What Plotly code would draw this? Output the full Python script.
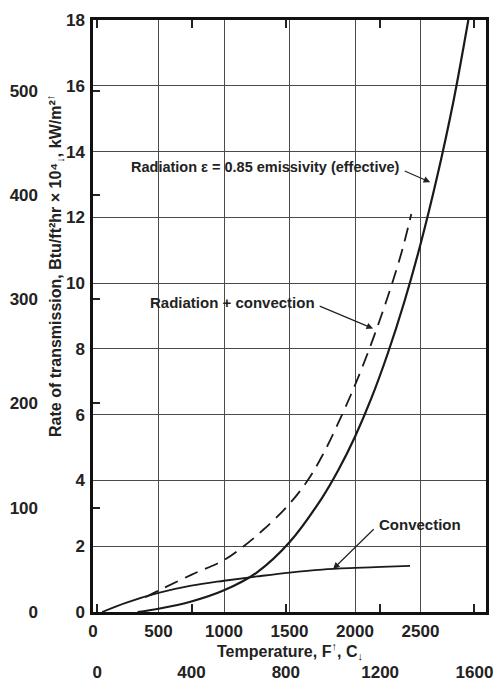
import plotly.graph_objects as go

# ---------------- data ----------------
rad_F = [340, 500, 750, 1000, 1250, 1500, 1750, 1875, 2000, 2125, 2250, 2375, 2500, 2625, 2750, 2865]
rad_V = [0.0, 0.1, 0.32, 0.66, 1.2, 2.12, 3.48, 4.33, 5.33, 6.5, 7.86, 9.41, 11.18, 13.2, 15.5, 18.0]

rc_F = [400, 500, 750, 1000, 1150, 1300, 1480, 1630, 1750, 1890, 2000, 2100, 2200, 2280, 2360, 2430]
rc_V = [0.45, 0.65, 1.13, 1.58, 2.0, 2.5, 3.2, 3.95, 4.75, 5.9, 6.9, 7.9, 9.0, 9.95, 11.0, 12.1]

conv_F = [70, 250, 500, 750, 1000, 1250, 1500, 1750, 2000, 2200, 2420]
conv_V = [0.0, 0.28, 0.58, 0.8, 0.95, 1.08, 1.2, 1.29, 1.34, 1.37, 1.4]

F_ticks = [0, 500, 1000, 1500, 2000, 2500, 3000]
C_ticks = [0, 400, 800, 1200, 1600]
btu_ticks = [0, 2, 4, 6, 8, 10, 12, 14, 16, 18]
kw_ticks = [0, 100, 200, 300, 400, 500]

F_range = [0, 3000]
btu_range = [0, 18]
KW_PER_UNIT = 31.546  # kW/m2 per (Btu/ft2 hr x 10^4)

FONT = "Liberation Sans Narrow, Arial Narrow, Liberation Sans, Arial, sans-serif"

fig = go.Figure()

fig.add_trace(go.Scatter(x=rad_F, y=rad_V, mode="lines", line=dict(color="#1a1a1a", width=2.2, shape="spline"),
                         showlegend=False, hoverinfo="skip"))
fig.add_trace(go.Scatter(x=rc_F, y=rc_V, mode="lines",
                         line=dict(color="#1a1a1a", width=1.8, shape="spline", dash="14px,8px"),
                         showlegend=False, hoverinfo="skip"))
fig.add_trace(go.Scatter(x=conv_F, y=conv_V, mode="lines", line=dict(color="#1a1a1a", width=1.8, shape="spline"),
                         showlegend=False, hoverinfo="skip"))

# invisible trace to activate secondary axes
fig.add_trace(go.Scatter(x=[C_ticks[0]], y=[kw_ticks[0]], xaxis="x2", yaxis="y2", mode="markers",
                         marker=dict(opacity=0), showlegend=False, hoverinfo="skip"))

tickfont = dict(family=FONT, size=17, color="#222", weight="bold")
GRID = "#4a4a4a"

fig.update_layout(
    width=504, height=681,
    margin=dict(l=93, r=18, t=20, b=69, autoexpand=False),
    paper_bgcolor="white", plot_bgcolor="white",
    xaxis=dict(range=F_range, tickvals=F_ticks, showgrid=True, gridcolor=GRID, gridwidth=1.4,
               showline=True, linecolor="#111", linewidth=2.5, mirror=True, ticks="", automargin=False,
               tickfont=tickfont, zeroline=False, ticklabelstandoff=2),
    yaxis=dict(range=btu_range, tickvals=btu_ticks, showgrid=True, gridcolor=GRID, gridwidth=1.4,
               showline=True, linecolor="#111", linewidth=2.5, mirror=True, ticks="", automargin=False,
               tickfont=tickfont, zeroline=False, ticklabelstandoff=2),
    xaxis2=dict(range=[(F_range[0] - 32) / 1.8, (F_range[1] - 32) / 1.8], tickvals=C_ticks,
                overlaying="x", anchor="y", side="bottom", ticks="inside", ticklen=8, tickwidth=1.5,
                tickcolor="#222", showline=True, linecolor="#111", linewidth=2.5, mirror="ticks",
                automargin=False,
                showgrid=False, zeroline=False, tickfont=tickfont, ticklabelstandoff=43),
    yaxis2=dict(range=[btu_range[0] * KW_PER_UNIT, btu_range[1] * KW_PER_UNIT], tickvals=kw_ticks,
                overlaying="y", anchor="x", side="left", ticks="inside", ticklen=7, tickwidth=1.5,
                tickcolor="#222", showline=False, showgrid=False, zeroline=False, automargin=False,
                tickfont=tickfont, ticklabelstandoff=54),
)

ann_font = dict(family=FONT, size=15, color="#222", weight="bold")
rad_font = dict(family=FONT, size=14.5, color="#222", weight="bold")

# text labels
fig.add_annotation(x=1314, y=13.52, text="Radiation ε = 0.85 emissivity (effective)", showarrow=False,
                   font=rad_font, xanchor="center", yanchor="middle")
fig.add_annotation(x=1063, y=9.41, text="Radiation + convection", showarrow=False,
                   font=ann_font, xanchor="center", yanchor="middle")
fig.add_annotation(x=2497, y=2.65, text="Convection", showarrow=False,
                   font=ann_font, xanchor="center", yanchor="middle")

# arrows
for hx, hy, tx, ty in [(2574, 13.07, 2368, 13.43), (2138, 8.62, 1719, 9.32), (1833, 1.31, 2154, 2.56)]:
    fig.add_annotation(x=hx, y=hy, ax=tx, ay=ty, axref="x", ayref="y", text="", showarrow=True,
                       arrowhead=2, arrowsize=1.1, arrowwidth=1.2, arrowcolor="#222")

# axis titles
fig.add_annotation(xref="paper", yref="paper", x=0.5, y=-0.066, showarrow=False,
                   text="Temperature, F<sup>↑</sup>, C<sub>↓</sub>",
                   font=dict(family=FONT, size=16, color="#222", weight="bold"),
                   xanchor="center", yanchor="middle")
fig.add_annotation(xref="paper", yref="paper", x=-0.095, y=0.584, showarrow=False, textangle=-90,
                   text="Rate of transmission, Btu/ft²hr × 10⁴<sub>↓</sub>, kW/m²<sup>↑</sup>",
                   font=dict(family=FONT, size=16, color="#222", weight="bold"),
                   xanchor="center", yanchor="middle")

fig.write_html("out.html")
